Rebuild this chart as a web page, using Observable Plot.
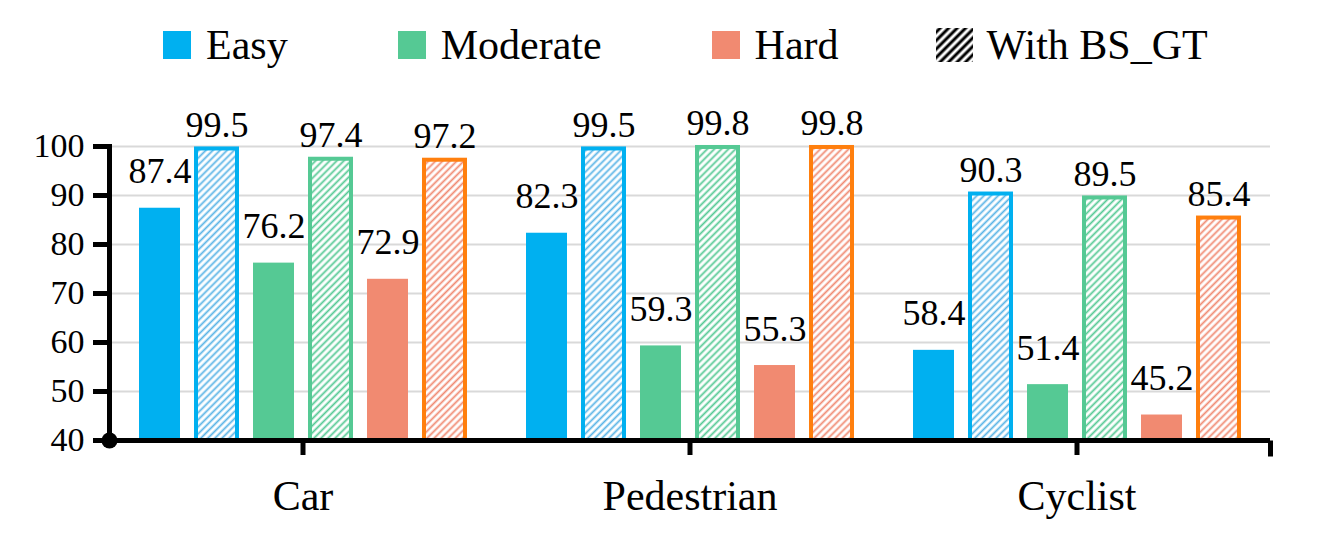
<!DOCTYPE html>
<html><head><meta charset="utf-8">
<script src="https://cdn.jsdelivr.net/npm/d3@7"></script>
<script src="https://cdn.jsdelivr.net/npm/@observablehq/plot@0.6"></script>
<style>
body{margin:0;background:#fff;font-family:"Liberation Serif",Tinos,"Times New Roman","DejaVu Serif",serif;}
#legend{height:90px;display:flex;align-items:center;padding-left:163px;box-sizing:border-box;font-size:42px;color:#000}
.item{display:flex;align-items:center;margin-right:110px}
.sw{width:28px;height:28px;margin-right:15px}
.hsw{width:37px;height:34px;margin-right:14px;margin-left:-13px}
#chart svg{display:block}
</style></head><body>
<div id="legend"></div>
<div id="chart"></div>
<script>
// ---- data ----
const categories = ["Car", "Pedestrian", "Cyclist"];
const levels = ["Easy", "Moderate", "Hard"];
const easy       = [87.4, 82.3, 58.4];
const easyBS     = [99.5, 99.5, 90.3];
const moderate   = [76.2, 59.3, 51.4];
const moderateBS = [97.4, 99.8, 89.5];
const hard       = [72.9, 55.3, 45.2];
const hardBS     = [97.2, 99.8, 85.4];
const yTicks = [40, 50, 60, 70, 80, 90, 100];
const gridTicks = [50, 60, 70, 80, 90, 100];
const legendLabels = ["Easy", "Moderate", "Hard", "With BS_GT"];

// ---- styles ----
const serif = '"Liberation Serif", Tinos, "Times New Roman", "DejaVu Serif", serif';
const fillColors = ["#00b0f0", "#55c994", "#f18a71"];
const hatchColors = ["#5ab4e6", "#55c994", "#f08a72"];
const bsStrokes = ["#00b0f0", "#55c994", "#ff7f0e"];

const solidValues = [easy, moderate, hard];
const bsValues = [easyBS, moderateBS, hardBS];
const keys = levels.flatMap(l => [l, l + " BS_GT"]);

const rows = [];
categories.forEach((c, i) => {
  levels.forEach((lv, j) => {
    rows.push({category: c, level: lv, bs: false, key: lv, value: solidValues[j][i]});
    rows.push({category: c, level: lv, bs: true, key: lv + " BS_GT", value: bsValues[j][i]});
  });
});

// ---- legend ----
const legend = document.getElementById("legend");
legendLabels.forEach((lab, i) => {
  const it = document.createElement("div");
  it.className = "item";
  if (i < 3) {
    it.innerHTML = `<div class="sw" style="background:${fillColors[i]}"></div><span>${lab}</span>`;
  } else {
    it.innerHTML = `<svg class="hsw" viewBox="0 0 37 34"><defs><pattern id="lh" patternUnits="userSpaceOnUse" width="6" height="6" patternTransform="rotate(45)"><line x1="3" y1="0" x2="3" y2="6" stroke="#000" stroke-width="3"/></pattern></defs><rect width="37" height="34" fill="url(#lh)"/></svg><span>${lab}</span>`;
  }
  legend.appendChild(it);
});

// vertical tick symbol for the axis end
const vtick = {draw(ctx) { ctx.moveTo(0, 0); ctx.lineTo(0, 16); }};

const marks = [
  Plot.ruleY(gridTicks, {stroke: "#d9d9d9", strokeWidth: 2}),
  Plot.barY(rows.filter(d => !d.bs), {fx: "category", x: "key", y1: 40, y2: "value", fill: "level"}),
  ...levels.map((lv, j) => Plot.barY(rows.filter(d => d.bs && d.level === lv), {
    fx: "category", x: "key", y1: 40, y2: "value",
    fill: `url(#hatch-${j})`, stroke: bsStrokes[j], strokeWidth: 4
  })),
  Plot.ruleY([40], {stroke: "black", strokeWidth: 5}),
  Plot.frame({anchor: "left", facetAnchor: "left", stroke: "black", strokeWidth: 5}),
  Plot.axisY({ticks: yTicks, tickSize: 16, tickPadding: 9, fontSize: 34, strokeWidth: 5, label: null, color: "black"}),
  Plot.axisFx({anchor: "bottom", tickSize: 15, tickPadding: 25, fontSize: 42, strokeWidth: 5, label: null, color: "black"}),
  Plot.dot([40], {y: d => d, frameAnchor: "left", r: 8, fill: "black", facetAnchor: "left"}),
  Plot.dot([40], {y: d => d, frameAnchor: "right", symbol: vtick, stroke: "black", strokeWidth: 5, fill: "none", facetAnchor: "right"}),
  Plot.text(rows.filter(d => !d.bs), {fx: "category", x: "key", y: "value", text: d => d.value.toFixed(1), lineAnchor: "bottom", dy: -25, fontSize: 36, fill: "black"}),
  Plot.text(rows.filter(d => d.bs), {fx: "category", x: "key", y: "value", text: d => d.value.toFixed(1), lineAnchor: "bottom", dy: -12, fontSize: 36, fill: "black"})
];

const svg = Plot.plot({
  width: 1341,
  height: 464,
  marginTop: 56,
  marginBottom: 114,
  marginLeft: 108,
  marginRight: 70,
  style: {fontFamily: serif, background: "white", color: "black"},
  fx: {domain: categories, padding: 0, label: null},
  x: {domain: keys, paddingInner: 0.276, paddingOuter: 0.483, axis: null},
  y: {domain: [40, 100], label: null},
  color: {domain: levels, range: fillColors},
  marks
});

const defs = d3.select(svg).insert("defs", ":first-child");
hatchColors.forEach((c, j) => {
  const p = defs.append("pattern")
    .attr("id", `hatch-${j}`)
    .attr("patternUnits", "userSpaceOnUse")
    .attr("width", 5).attr("height", 5)
    .attr("patternTransform", "rotate(45)");
  p.append("rect").attr("width", 5).attr("height", 5).attr("fill", "white");
  p.append("line").attr("x1", 2.5).attr("y1", 0).attr("x2", 2.5).attr("y2", 5)
    .attr("stroke", c).attr("stroke-width", 1.8);
});

document.getElementById("chart").appendChild(svg);
</script>
</body></html>
